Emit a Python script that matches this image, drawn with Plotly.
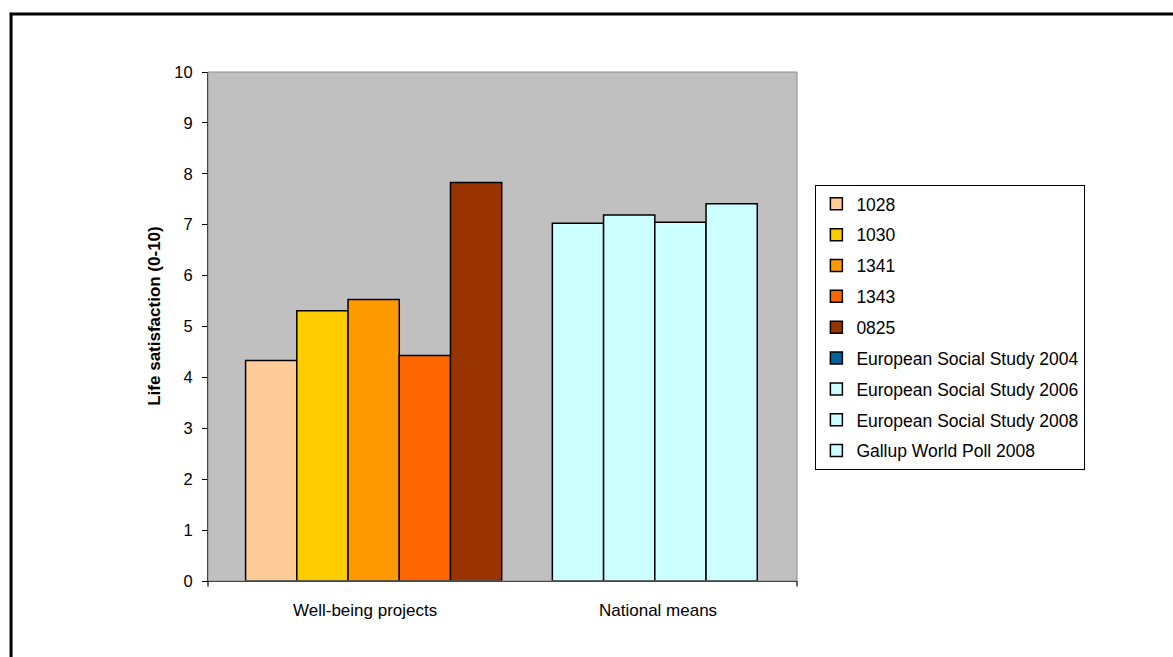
import plotly.graph_objects as go

# ---- data -------------------------------------------------------------
groups = ["Well-being projects", "National means"]

project_names = ["1028", "1030", "1341", "1343", "0825"]
project_values = [4.33, 5.31, 5.53, 4.43, 7.83]
project_colors = ["#FFCC99", "#FFCC00", "#FF9900", "#FF6600", "#993300"]

national_names = ["European Social Study 2004", "European Social Study 2006",
                  "European Social Study 2008", "Gallup World Poll 2008"]
national_values = [7.03, 7.19, 7.05, 7.41]
national_colors = ["#CCFFFF", "#CCFFFF", "#CCFFFF", "#CCFFFF"]
national_legend_colors = ["#06629F", "#CCFFFF", "#CCFFFF", "#CCFFFF"]

y_ticks = list(range(0, 11))

# ---- layout geometry (pixels) ----------------------------------------
W, H = 1173, 657
M_L, M_R, M_T, M_B = 207.5, 375.7, 72.3, 75.7
PW = W - M_L - M_R
PH = H - M_T - M_B


def px_x(p):
    return (p - M_L) / PW


def px_y(p):
    return (H - M_B - p) / PH


FONT = "Liberation Sans, Arial, sans-serif"
OUTLINE = dict(color="black", width=1.5)

fig = go.Figure()

# well-being project bars, one slot each in the first group
for i, (name, val, col) in enumerate(zip(project_names, project_values, project_colors)):
    fig.add_trace(go.Bar(
        x=[groups[0]], y=[val], name=name,
        marker=dict(color=col, line=OUTLINE),
        offsetgroup=f"s{i}", legendgroup=name,
    ))

# national means bars in the second group
for i, (name, val, col, lcol) in enumerate(zip(national_names, national_values,
                                                national_colors, national_legend_colors)):
    if col != lcol:
        # legend swatch keeps the series colour while the bar is recoloured
        fig.add_trace(go.Bar(
            x=[groups[1]], y=[None], name=name,
            marker=dict(color=lcol, line=OUTLINE),
            offsetgroup=f"s{i}", legendgroup=name,
        ))
        show = False
    else:
        show = True
    fig.add_trace(go.Bar(
        x=[groups[1]], y=[val], name=name,
        marker=dict(color=col, line=OUTLINE),
        offsetgroup=f"s{i}", legendgroup=name, showlegend=show,
    ))

# category labels under the groups
label_pos = [364.4, 657.9]
annotations = [
    dict(text=g, x=px_x(p), y=px_y(611), xref="paper", yref="paper",
         showarrow=False, xanchor="center", yanchor="middle",
         font=dict(family=FONT, size=17, color="black"))
    for g, p in zip(groups, label_pos)
]
annotations.append(dict(
    text="<b>Life satisfaction (0-10)</b>", textangle=-90,
    x=px_x(154), y=px_y(316.5), xref="paper", yref="paper",
    showarrow=False, xanchor="center", yanchor="middle",
    font=dict(family=FONT, size=17, color="black"),
))

shapes = [
    # plot-area rim
    dict(type="rect", xref="paper", yref="paper", x0=0, x1=1, y0=0, y1=1,
         line=dict(color="#8C8C8C", width=1), layer="above"),
    # end ticks of the category axis
    dict(type="line", xref="paper", yref="paper", x0=0, x1=0,
         y0=0, y1=px_y(H - M_B + 5.5), line=dict(color="black", width=1.2)),
    dict(type="line", xref="paper", yref="paper", x0=1, x1=1,
         y0=0, y1=px_y(H - M_B + 5.5), line=dict(color="black", width=1.2)),
    # chart frame
    dict(type="line", xref="paper", yref="paper", x0=px_x(9), x1=px_x(W + 10),
         y0=px_y(14.3), y1=px_y(14.3), line=dict(color="black", width=3)),
    dict(type="line", xref="paper", yref="paper", x0=px_x(10.3), x1=px_x(10.3),
         y0=px_y(13), y1=px_y(H + 10), line=dict(color="black", width=3)),
]

fig.update_layout(
    width=W, height=H,
    margin=dict(l=M_L, r=M_R, t=M_T, b=M_B, pad=0),
    paper_bgcolor="white", plot_bgcolor="#C0C0C0",
    barmode="group", bargap=0.165, bargroupgap=0,
    font=dict(family=FONT, size=16, color="black"),
    showlegend=True,
    legend=dict(
        x=px_x(815.7), y=px_y(185.2), xanchor="left", yanchor="top",
        bgcolor="white", bordercolor="black", borderwidth=1,
        font=dict(family=FONT, size=17.5, color="black"),
        tracegroupgap=5.1, traceorder="grouped",
    ),
    xaxis=dict(
        type="category", range=[-0.540, 1.380],
        showticklabels=False, ticks="", showline=True,
        linecolor="black", linewidth=1.2, showgrid=False, zeroline=False,
    ),
    yaxis=dict(
        range=[0, 10], tickvals=y_ticks, ticktext=[str(t) for t in y_ticks],
        ticks="outside", ticklen=5, tickwidth=1.2, tickcolor="black",
        showline=True, linecolor="black", linewidth=1.2,
        showgrid=False, zeroline=False, ticklabelstandoff=6,
        tickfont=dict(family=FONT, size=16.5, color="black"),
    ),
    annotations=annotations,
    shapes=shapes,
)

fig.write_html("out.html")
